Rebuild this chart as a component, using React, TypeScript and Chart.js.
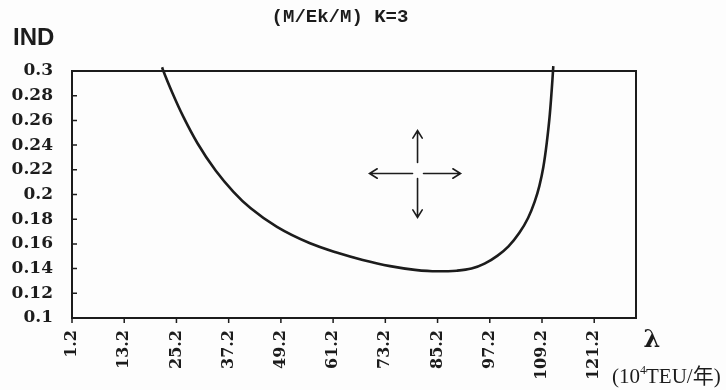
import React, { useEffect, useRef } from 'react';
import { Chart, registerables } from 'chart.js';

Chart.register(...registerables);

// λ (10^4 TEU/年) and IND readings of the curve
const lambdaValues = [21.9, 22.2, 24.3, 26.8, 30.0, 34.2, 38.3, 42.2, 48.3, 55.9, 62.0, 68.0, 74.3, 80.0, 85.0, 89.6, 93.0, 96.0, 99.0, 101.5, 104.0, 106.0, 107.5, 108.6, 109.5, 110.3, 111.0, 111.6, 111.8];
const indValues = [0.303, 0.300, 0.282, 0.2628, 0.2417, 0.2194, 0.2022, 0.189, 0.1738, 0.1605, 0.153, 0.147, 0.142, 0.139, 0.1378, 0.1383, 0.140, 0.144, 0.1505, 0.158, 0.169, 0.181, 0.194, 0.207, 0.222, 0.242, 0.265, 0.293, 0.304];

const xTickValues = [1.2, 13.2, 25.2, 37.2, 49.2, 61.2, 73.2, 85.2, 97.2, 109.2, 121.2];
const xTickLabels = ['1.2', '13.2', '25.2', '37.2', '49.2', '61.2', '73.2', '85.2', '97.2', '109.2', '121.2'];
const yTickValues = [0.1, 0.12, 0.14, 0.16, 0.18, 0.2, 0.22, 0.24, 0.26, 0.28, 0.3];
const yTickLabels = ['0.1', '0.12', '0.14', '0.16', '0.18', '0.2', '0.22', '0.24', '0.26', '0.28', '0.3'];
const xRange = [1.2, 130.8];
const yRange = [0.1, 0.3];
const arrowCenter = [80.6, 0.217];

const titleText = '(M/Ek/M) K=3';
const yAxisName = 'IND';
const xAxisName = 'λ';
const xUnitParts = ['(10', '4', 'TEU/年)'];

const INK = '#1c1c1c';

const decorPlugin = {
  id: 'decor',
  afterDraw(chart: any) {
    const { ctx, chartArea: a, scales } = chart;
    const xs = scales.x;
    const ys = scales.y;
    ctx.save();
    // frame
    ctx.strokeStyle = INK;
    ctx.lineWidth = 2;
    ctx.strokeRect(a.left, a.top, a.right - a.left, a.bottom - a.top);
    // ticks
    ctx.lineWidth = 1.5;
    ctx.beginPath();
    yTickValues.forEach((v) => {
      const py = ys.getPixelForValue(v);
      ctx.moveTo(a.left, py);
      ctx.lineTo(a.left + 5, py);
    });
    xTickValues.forEach((v) => {
      const px = xs.getPixelForValue(v);
      ctx.moveTo(px, a.bottom);
      ctx.lineTo(px, a.bottom + 5);
    });
    ctx.stroke();

    // arrows
    const cx = xs.getPixelForValue(arrowCenter[0]);
    const cy = ys.getPixelForValue(arrowCenter[1]);
    const arrow = (x1: number, y1: number, x2: number, y2: number) => {
      const ang = Math.atan2(y2 - y1, x2 - x1);
      const h = 9;
      const w = 0.55;
      ctx.beginPath();
      ctx.moveTo(x1, y1);
      ctx.lineTo(x2, y2);
      ctx.moveTo(x2 - h * Math.cos(ang - w), y2 - h * Math.sin(ang - w));
      ctx.lineTo(x2, y2);
      ctx.lineTo(x2 - h * Math.cos(ang + w), y2 - h * Math.sin(ang + w));
      ctx.stroke();
    };
    ctx.lineWidth = 1.6;
    ctx.lineCap = 'round';
    arrow(cx - 5, cy, cx - 48, cy);
    arrow(cx + 6, cy, cx + 43, cy);
    arrow(cx, cy - 11, cx, cy - 43);
    arrow(cx, cy + 5, cx, cy + 44);

    // texts
    ctx.fillStyle = INK;
    ctx.textBaseline = 'alphabetic';
    ctx.textAlign = 'center';
    ctx.font = 'bold 19px "Liberation Mono", "DejaVu Sans Mono", monospace';
    ctx.fillText(titleText, 340, 22);

    ctx.textAlign = 'left';
    ctx.font = 'bold 24px "Liberation Sans", "DejaVu Sans", sans-serif';
    ctx.fillText(yAxisName, 13, 45);

    ctx.textAlign = 'center';
    ctx.font = 'bold 24px "DejaVu Serif", "Liberation Serif", serif';
    ctx.fillText(xAxisName, 652, 347);

    ctx.textAlign = 'left';
    let tx = 612;
    const base = 383;
    ctx.font = '21px "Liberation Serif", "Noto Sans CJK SC", serif';
    ctx.fillText(xUnitParts[0], tx, base);
    tx += ctx.measureText(xUnitParts[0]).width;
    ctx.font = '12px "Liberation Serif", serif';
    ctx.fillText(xUnitParts[1], tx, base - 9);
    tx += ctx.measureText(xUnitParts[1]).width;
    ctx.font = '21px "Liberation Serif", "Noto Sans CJK SC", serif';
    ctx.fillText(xUnitParts[2], tx, base);
    ctx.restore();
  },
};

const bgPlugin = {
  id: 'bg',
  beforeDraw(chart: any) {
    const { ctx, width, height } = chart;
    ctx.save();
    ctx.fillStyle = '#fdfdfd';
    ctx.fillRect(0, 0, width, height);
    ctx.restore();
  },
};

export default function App() {
  const ref = useRef<HTMLCanvasElement>(null);
  useEffect(() => {
    document.body.style.margin = '0';
    const chart = new Chart(ref.current as HTMLCanvasElement, {
      type: 'line',
      data: {
        datasets: [
          {
            data: lambdaValues.map((x, i) => ({ x, y: indValues[i] })),
            borderColor: INK,
            borderWidth: 2.6,
            pointRadius: 0,
            cubicInterpolationMode: 'monotone',
            fill: false,
            clip: 5,
          } as any,
        ],
      },
      options: {
        animation: false,
        responsive: false,
        maintainAspectRatio: false,
        layout: { padding: { top: 71, right: 90, left: 0, bottom: 0 } },
        plugins: { legend: { display: false }, tooltip: { enabled: false }, title: { display: false } },
        scales: {
          x: {
            type: 'linear',
            min: xRange[0],
            max: xRange[1],
            afterBuildTicks: (s: any) => {
              s.ticks = xTickValues.map((value) => ({ value }));
            },
            afterFit: (s: any) => {
              s.height = 72;
            },
            grid: { display: false, drawTicks: false },
            border: { display: false },
            ticks: {
              autoSkip: false,
              minRotation: 90,
              maxRotation: 90,
              padding: 12,
              color: INK,
              font: { family: '"DejaVu Serif", serif', size: 16, weight: 'bold' },
              callback: (_v: any, i: number) => xTickLabels[i],
            },
          },
          y: {
            type: 'linear',
            min: yRange[0],
            max: yRange[1],
            afterBuildTicks: (s: any) => {
              s.ticks = yTickValues.map((value) => ({ value }));
            },
            afterFit: (s: any) => {
              s.width = 72;
            },
            grid: { display: false, drawTicks: false },
            border: { display: false },
            ticks: {
              padding: 19,
              color: INK,
              font: { family: '"DejaVu Serif", serif', size: 17, weight: 'bold' },
              callback: (_v: any, i: number) => yTickLabels[i],
            },
          },
        },
      },
      plugins: [bgPlugin, decorPlugin],
    });
    return () => chart.destroy();
  }, []);
  return (
    <div style={{ position: 'absolute', left: 0, top: 0, width: 726, height: 390 }}>
      <canvas ref={ref} width={726} height={390} style={{ display: 'block', width: 726, height: 390 }} />
    </div>
  );
}
